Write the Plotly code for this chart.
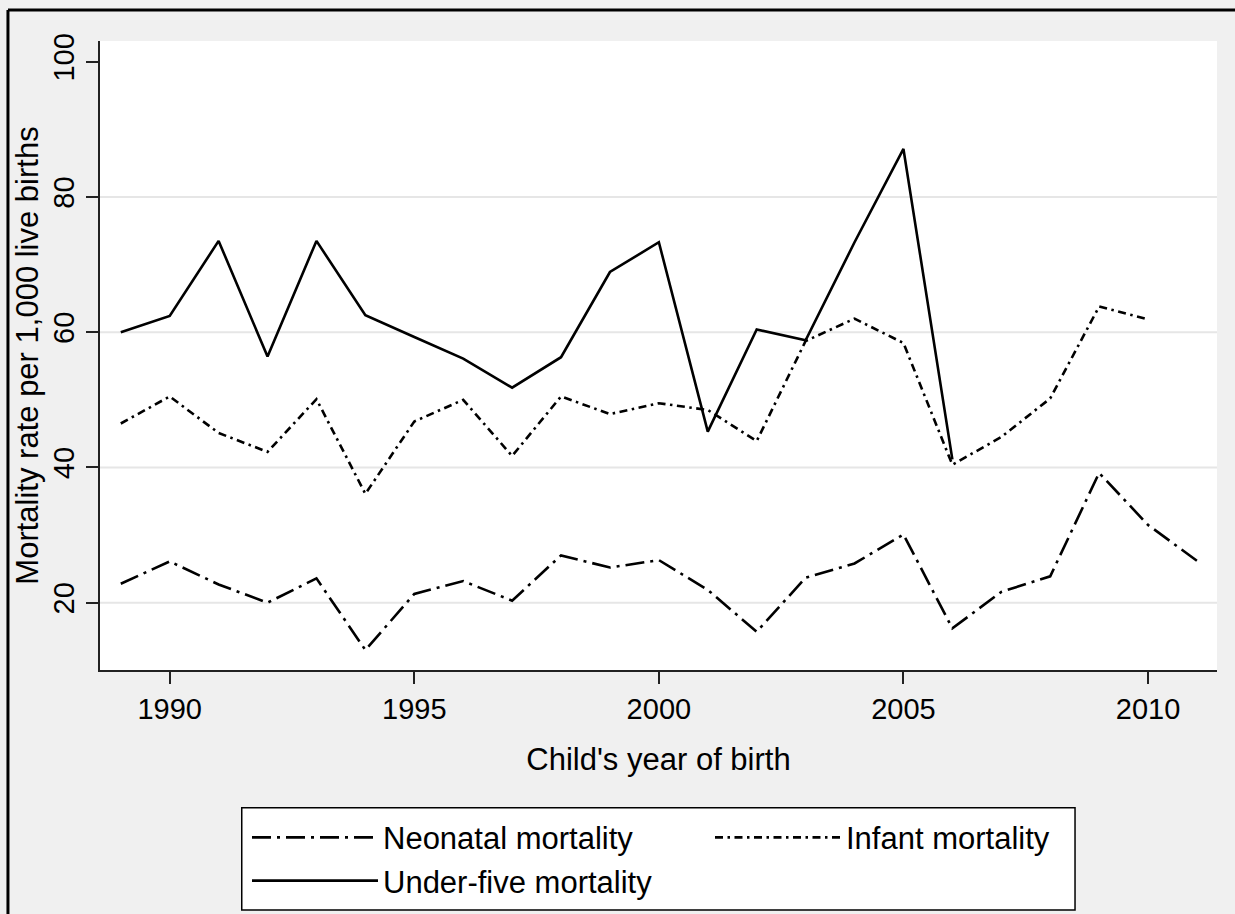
import plotly.graph_objects as go

years = list(range(1989, 2012))

neonatal = [22.8, 26.1, 22.7, 20.0, 23.6, 13.0, 21.3, 23.2, 20.3, 27.0, 25.2, 26.3,
            21.9, 15.7, 23.7, 25.8, 30.1, 16.2, 21.6, 23.9, 39.2, 31.5, 26.2]
infant = [46.5, 50.5, 45.1, 42.3, 50.1, 36.1, 46.8, 50.0, 41.7, 50.5, 47.9, 49.5,
          48.5, 43.9, 58.7, 62.0, 58.4, 40.4, 44.5, 50.2, 63.8, 61.9]
under_five = [60.0, 62.4, 73.5, 56.4, 73.5, 62.5, 59.3, 56.1, 51.8, 56.3, 68.9, 73.3,
              45.3, 60.4, 58.8, 73.3, 87.1, 41.2]

x_ticks = [1990, 1995, 2000, 2005, 2010]
y_ticks = [20, 40, 60, 80, 100]
y_grid = [20, 40, 60, 80]

FONT = "Liberation Sans, Arial, sans-serif"

fig = go.Figure()
fig.add_trace(go.Scatter(x=years[:len(neonatal)], y=neonatal, mode="lines",
                         name="Neonatal mortality", legend="legend",
                         line=dict(color="black", width=2.6, dash="19px,6px,3px,6px")))
fig.add_trace(go.Scatter(x=years[:len(infant)], y=infant, mode="lines",
                         name="Infant mortality", legend="legend2",
                         line=dict(color="black", width=2.6, dash="8px,4.5px,2.5px,4.5px")))
fig.add_trace(go.Scatter(x=years[:len(under_five)], y=under_five, mode="lines",
                         name="Under-five mortality", legend="legend",
                         line=dict(color="black", width=2.6)))

shapes = []
for g in y_grid:
    shapes.append(dict(type="line", xref="paper", yref="y", x0=0, x1=1, y0=g, y1=g,
                       line=dict(color="#e6e6e6", width=2), layer="below"))
# outer frame (top and left edges visible)
shapes.append(dict(type="line", xref="paper", yref="paper", x0=-0.0824, x1=1.02,
                   y0=1.0493, y1=1.0493, line=dict(color="black", width=3)))
shapes.append(dict(type="line", xref="paper", yref="paper", x0=-0.0824, x1=-0.0824,
                   y0=1.0493, y1=-0.6, line=dict(color="black", width=3)))
# legend frame
shapes.append(dict(type="rect", xref="paper", yref="paper", x0=0.1269, x1=0.8729,
                   y0=-0.2189, y1=-0.3816, fillcolor="white",
                   line=dict(color="black", width=1.5), layer="below"))

legend_common = dict(
    bgcolor="rgba(0,0,0,0)", borderwidth=0,
    font=dict(family=FONT, size=31, color="black"),
    itemwidth=126, yanchor="top", xanchor="left", tracegroupgap=0,
)

fig.update_layout(
    width=1235, height=914,
    margin=dict(l=100, r=18, t=41, b=244, autoexpand=False),
    paper_bgcolor="#f0f0f0",
    plot_bgcolor="white",
    font=dict(family=FONT, color="black", size=29),
    shapes=shapes,
    showlegend=True,
    legend=dict(orientation="v", x=0.1316, y=-0.2237, traceorder="normal", **legend_common),
    legend2=dict(orientation="v", x=0.5461, y=-0.2237, **legend_common),
    xaxis=dict(
        range=[1988.575, 2011.41], tickvals=x_ticks, ticktext=[str(t) for t in x_ticks],
        showgrid=False, zeroline=False, showline=True, linecolor="#222", linewidth=2,
        ticks="outside", ticklen=12, tickwidth=2, tickcolor="#222",
        tickfont=dict(size=29), automargin=False,
        title=dict(text="Child's year of birth", font=dict(size=31), standoff=25),
    ),
    yaxis=dict(
        range=[10.05, 103.06], tickvals=y_ticks, ticktext=[str(t) for t in y_ticks],
        showgrid=False, zeroline=False, showline=True, linecolor="#222", linewidth=2,
        ticks="outside", ticklen=12, tickwidth=2, tickcolor="#222",
        tickangle=-90, tickfont=dict(size=29), automargin=False,
        title=dict(text="Mortality rate per 1,000 live births", font=dict(size=31), standoff=1),
    ),
)

fig.write_html(
    "out.html",
    config={"displayModeBar": False},
    post_script="document.body.style.margin='0';document.body.style.overflow='hidden';",
)
